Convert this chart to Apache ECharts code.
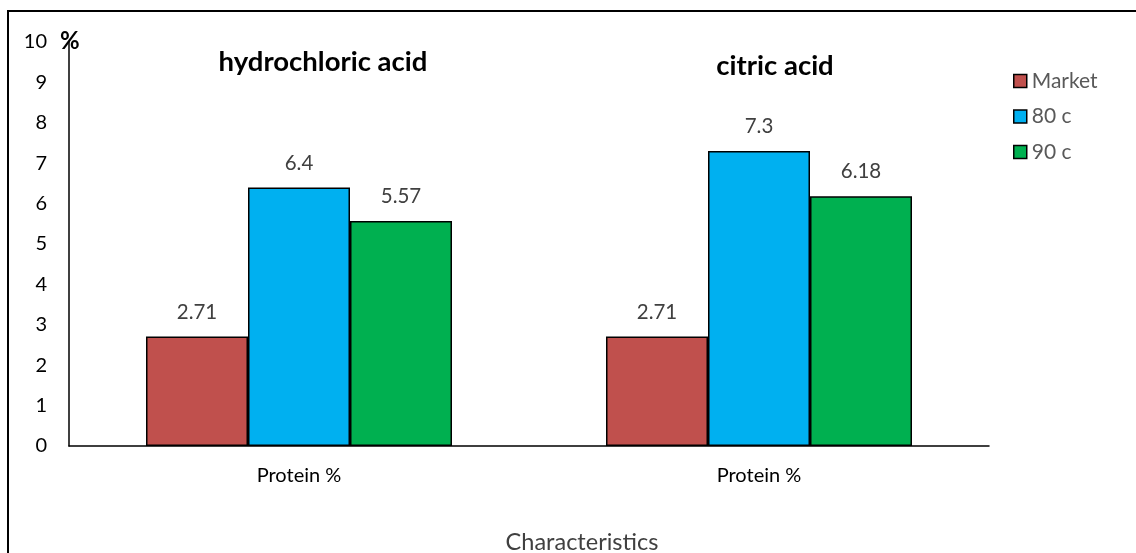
<!DOCTYPE html>
<html>
<head>
<meta charset="utf-8">
<script src="https://cdn.jsdelivr.net/npm/echarts@6/dist/echarts.min.js"></script>
<style>
html,body{margin:0;padding:0;background:#fff;}
#chart{width:1136px;height:553px;}
</style>
</head>
<body>
<div id="chart"></div>
<script>
const categories = ['Protein %', 'Protein %'];
const groupTitles = ['hydrochloric acid', 'citric acid'];
const seriesNames = ['Market', '80 c', '90 c'];
const marketValues = [2.71, 2.71];
const c80Values = [6.4, 7.3];
const c90Values = [5.57, 6.18];
const yTicks = [0, 1, 2, 3, 4, 5, 6, 7, 8, 9, 10];
const colors = ['#C0504D', '#00B0F0', '#00B050'];
const FONT = 'Lato, "Open Sans", sans-serif';

const chart = echarts.init(document.getElementById('chart'));
const seriesData = [marketValues, c80Values, c90Values];

chart.setOption({
  animation: false,
  backgroundColor: '#fff',
  textStyle: { fontFamily: FONT },
  grid: { left: 69, right: 147, top: 42, bottom: 107, containLabel: false, outerBoundsMode: 'none' },
  title: [
    { text: groupTitles[0], left: 318, top: 41, textAlign: 'center',
      textStyle: { fontFamily: FONT, fontSize: 27.5, fontWeight: 'bold', color: '#000', lineHeight: 32 } },
    { text: groupTitles[1], left: 770, top: 45, textAlign: 'center',
      textStyle: { fontFamily: FONT, fontSize: 27.5, fontWeight: 'bold', color: '#000', lineHeight: 32 } }
  ],
  legend: {
    orient: 'vertical', left: 1013, top: 69, itemGap: 11.5, padding: 0,
    itemWidth: 13, itemHeight: 13, icon: 'rect',
    textStyle: { fontFamily: FONT, fontSize: 21, color: '#595959', lineHeight: 24, padding: [0, 0, 0, 0] },
    data: seriesNames.map((n, i) => ({ name: n, itemStyle: { borderColor: '#000', borderWidth: 1.5 } }))
  },
  xAxis: {
    type: 'category', data: categories,
    name: 'Characteristics', nameLocation: 'middle', nameGap: 84,
    nameTextStyle: { fontFamily: FONT, fontSize: 23.5, color: '#404040', padding: [0, 0, 0, 106] },
    axisLine: { lineStyle: { color: '#000', width: 1.5 } },
    axisTick: { show: false },
    axisLabel: { fontFamily: FONT, fontSize: 20, color: '#000', margin: 20 }
  },
  yAxis: {
    type: 'value', min: 0, max: 10, interval: 1,
    axisLine: { show: true, lineStyle: { color: '#000', width: 1.5 } },
    axisTick: { show: false },
    splitLine: { show: false },
    axisLabel: { fontFamily: FONT, fontSize: 20, color: '#000', margin: 22,
      formatter: v => yTicks.includes(v) ? String(v) : '' }
  },
  graphic: [
    { type: 'rect', shape: { x: 8, y: 11, width: 1200, height: 700 },
      style: { fill: 'none', stroke: '#000', lineWidth: 2 }, silent: true },
    { type: 'text', left: 60, top: 29,
      style: { text: '%', fontFamily: FONT, fontSize: 24, fontWeight: 'bold', fill: '#000' } }
  ],
  series: seriesNames.map((name, i) => ({
    name: name, type: 'bar', data: seriesData[i],
    barWidth: 102, barGap: '0%',
    itemStyle: { color: colors[i], borderColor: '#000', borderWidth: 1.5 },
    label: { show: true, position: 'top', distance: 14,
      fontFamily: FONT, fontSize: 20.5, color: '#404040' }
  }))
});
</script>
</body>
</html>
